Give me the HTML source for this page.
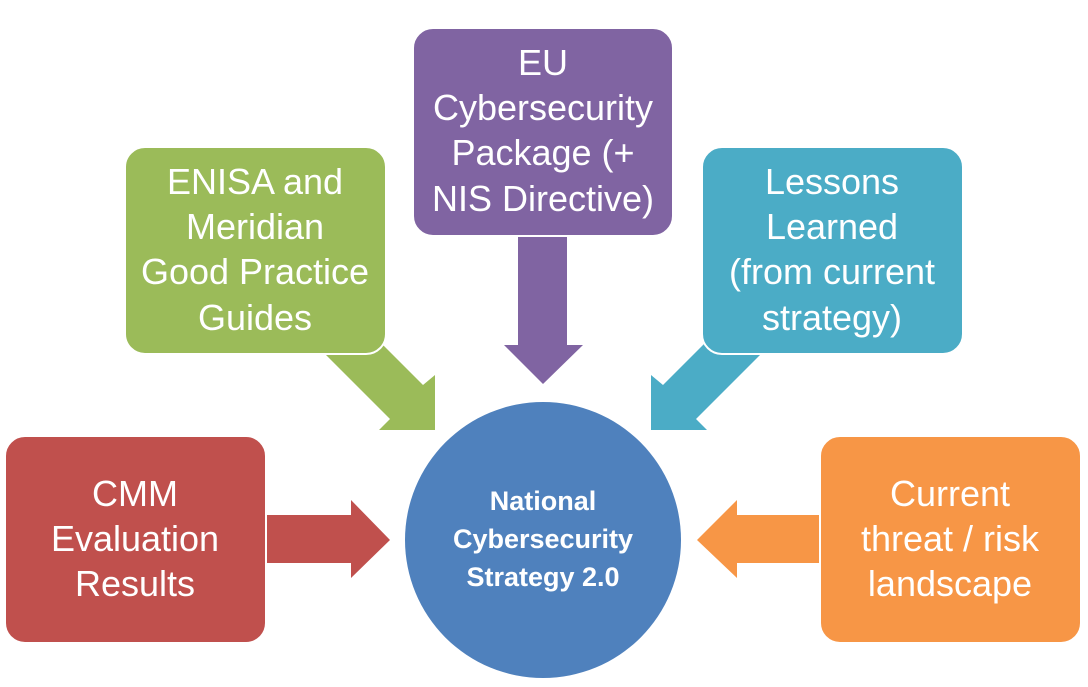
<!DOCTYPE html>
<html><head><meta charset="utf-8"><style>
html,body{margin:0;padding:0;background:#fff;}
body{width:1088px;height:687px;overflow:hidden;position:relative;}
svg{position:absolute;left:0;top:0;}
text{font-family:"Liberation Sans",sans-serif;fill:#fff;text-anchor:middle;}
.b{font-size:36px;}
.c{font-size:27px;font-weight:bold;}
</style></head><body>
<svg width="1088" height="687" viewBox="0 0 1088 687">
<polygon points="310,339 390,419 379,430 435,430 435,375 423,385 343,305" fill="#9BBB59"/>
<polygon points="776,339 696,419 707,430 651,430 651,375 663,385 743,305" fill="#4BACC6"/>
<polygon points="518,230 567,230 567,345 583,345 543,384 504,345 518,345" fill="#8064A2"/>
<polygon points="262,515 351,515 351,500 390,540 351,578 351,563 262,563" fill="#C0504D"/>
<polygon points="826,515 737,515 737,500 697,540 737,578 737,563 826,563" fill="#F79646"/>
<circle cx="543" cy="540" r="138" fill="#4F81BD"/>
<rect x="413" y="28" width="260" height="208" rx="20" fill="#8064A2" stroke="#fff" stroke-width="2"/>
<rect x="125" y="147" width="261" height="207" rx="20" fill="#9BBB59" stroke="#fff" stroke-width="2"/>
<rect x="702" y="147" width="261" height="207" rx="20" fill="#4BACC6" stroke="#fff" stroke-width="2"/>
<rect x="5" y="436" width="261" height="207" rx="20" fill="#C0504D" stroke="#fff" stroke-width="2"/>
<rect x="820" y="436" width="261" height="207" rx="20" fill="#F79646" stroke="#fff" stroke-width="2"/>
<g class="b">
<text x="543" y="75">EU</text>
<text x="543" y="120">Cybersecurity</text>
<text x="543" y="165">Package (+</text>
<text x="543" y="211">NIS Directive)</text>
<text x="255" y="194">ENISA and</text>
<text x="255" y="239">Meridian</text>
<text x="255" y="284">Good Practice</text>
<text x="255" y="330">Guides</text>
<text x="832" y="194">Lessons</text>
<text x="832" y="239">Learned</text>
<text x="832" y="284">(from current</text>
<text x="832" y="330">strategy)</text>
<text x="135" y="506">CMM</text>
<text x="135" y="551">Evaluation</text>
<text x="135" y="596">Results</text>
<text x="950" y="506">Current</text>
<text x="950" y="551">threat / risk</text>
<text x="950" y="596">landscape</text>
</g>
<g class="c">
<text x="543" y="510">National</text>
<text x="543" y="548">Cybersecurity</text>
<text x="543" y="586">Strategy 2.0</text>
</g>
</svg>
</body></html>
